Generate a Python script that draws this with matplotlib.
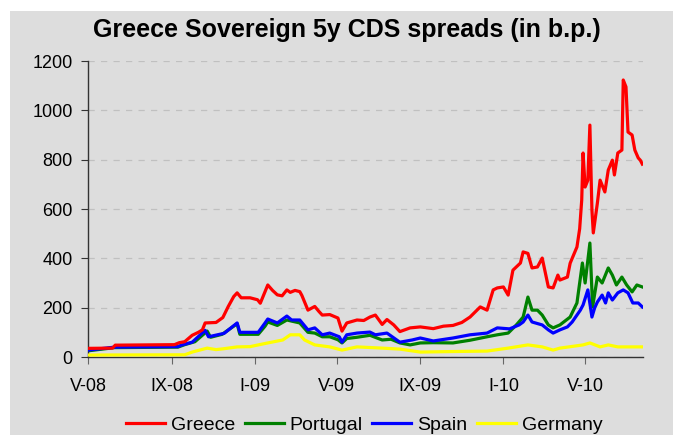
import matplotlib
matplotlib.use("Agg")
import matplotlib.pyplot as plt
import pandas as pd
from matplotlib.patches import Rectangle

plt.rcParams['font.family'] = ['Liberation Sans', 'DejaVu Sans']

# data (date, spread in b.p.)
greece_dates = ['2008-05-01', '2008-06-06', '2008-06-10', '2008-09-05', '2008-09-12', '2008-09-20',
                '2008-10-01', '2008-10-10', '2008-10-16', '2008-10-20', '2008-11-05', '2008-11-15',
                '2008-11-23', '2008-12-01', '2008-12-06', '2008-12-12', '2008-12-25', '2009-01-05',
                '2009-01-09', '2009-01-16', '2009-01-20', '2009-01-27', '2009-02-03', '2009-02-10',
                '2009-02-17', '2009-02-22', '2009-03-01', '2009-03-08', '2009-03-11', '2009-03-20',
                '2009-03-30', '2009-04-05', '2009-04-10', '2009-04-21', '2009-05-03', '2009-05-09',
                '2009-05-16', '2009-05-31', '2009-06-10', '2009-06-19', '2009-06-27', '2009-07-07',
                '2009-07-14', '2009-07-24', '2009-08-02', '2009-08-17', '2009-09-01', '2009-09-20',
                '2009-10-05', '2009-10-19', '2009-11-01', '2009-11-13', '2009-11-28', '2009-12-08',
                '2009-12-17', '2009-12-23', '2010-01-01', '2010-01-08', '2010-01-15', '2010-01-26',
                '2010-01-30', '2010-02-06', '2010-02-12', '2010-02-20', '2010-02-27', '2010-03-08',
                '2010-03-15', '2010-03-22', '2010-03-25', '2010-04-05', '2010-04-09', '2010-04-12',
                '2010-04-19', '2010-04-23', '2010-04-26', '2010-04-28', '2010-05-01', '2010-05-05',
                '2010-05-08', '2010-05-11', '2010-05-13', '2010-05-19', '2010-05-23', '2010-05-30',
                '2010-06-04', '2010-06-10', '2010-06-13', '2010-06-18', '2010-06-24', '2010-06-26',
                '2010-06-30', '2010-07-03', '2010-07-09', '2010-07-13', '2010-07-18', '2010-07-21',
                '2010-07-24']
greece_bp = [35, 36, 48, 50, 58, 62,
             88, 100, 110, 138, 140, 160,
             205, 245, 260, 240, 240, 232,
             218, 265, 292, 270, 252, 248,
             272, 262, 270, 265, 250, 190,
             205, 185, 170, 172, 158, 105,
             138, 150, 148, 162, 170, 132,
             152, 130, 103, 118, 122, 115,
             125, 128, 140, 162, 203, 190,
             272, 280, 284, 251, 352, 381,
             426, 420, 361, 365, 401, 284,
             280, 332, 312, 324, 380, 400,
             446, 520, 636, 827, 689, 717,
             940, 596, 503, 624, 717, 669,
             758, 798, 738, 827, 839, 1123,
             1095, 912, 900, 839, 807, 798,
             782]

portugal_dates = ['2008-05-01', '2008-06-09', '2008-09-10', '2008-09-20', '2008-10-05', '2008-10-23',
                  '2008-10-28', '2008-11-14', '2008-12-06', '2008-12-10', '2009-01-06', '2009-01-16',
                  '2009-01-20', '2009-02-03', '2009-02-17', '2009-03-08', '2009-03-20', '2009-03-30',
                  '2009-04-10', '2009-04-21', '2009-05-03', '2009-05-09', '2009-05-16', '2009-05-31',
                  '2009-06-19', '2009-07-07', '2009-07-20', '2009-08-02', '2009-08-17', '2009-09-01',
                  '2009-09-20', '2009-10-19', '2009-11-13', '2009-12-08', '2009-12-23', '2010-01-08',
                  '2010-01-20', '2010-01-30', '2010-02-06', '2010-02-12', '2010-02-20', '2010-02-27',
                  '2010-03-08', '2010-03-15', '2010-03-25', '2010-04-09', '2010-04-19', '2010-04-27',
                  '2010-05-01', '2010-05-08', '2010-05-12', '2010-05-19', '2010-05-26', '2010-06-04',
                  '2010-06-10', '2010-06-16', '2010-06-24', '2010-07-01', '2010-07-09', '2010-07-16',
                  '2010-07-24']
portugal_bp = [25, 38, 40, 50, 62, 105,
               80, 92, 135, 92, 92, 125,
               142, 128, 150, 138, 100, 97,
               82, 82, 70, 57, 75, 80,
               88, 69, 72, 57, 49, 57,
               58, 57, 68, 82, 90, 97,
               130, 162, 243, 190, 190, 170,
               130, 118, 130, 162, 219, 381,
               300, 462, 203, 324, 300, 361,
               332, 292, 324, 292, 264, 292,
               284]

spain_dates = ['2008-05-01', '2008-06-09', '2008-09-10', '2008-09-15', '2008-10-01', '2008-10-20',
               '2008-10-25', '2008-11-17', '2008-12-06', '2008-12-10', '2009-01-06', '2009-01-16',
               '2009-01-20', '2009-02-03', '2009-02-17', '2009-02-24', '2009-03-08', '2009-03-20',
               '2009-03-30', '2009-04-10', '2009-04-21', '2009-05-05', '2009-05-09', '2009-05-16',
               '2009-05-31', '2009-06-19', '2009-06-27', '2009-07-14', '2009-08-02', '2009-08-20',
               '2009-09-01', '2009-09-20', '2009-10-19', '2009-11-13', '2009-12-08', '2009-12-23',
               '2010-01-10', '2010-01-24', '2010-01-30', '2010-02-06', '2010-02-12', '2010-02-27',
               '2010-03-08', '2010-03-15', '2010-03-25', '2010-04-05', '2010-04-12', '2010-04-24',
               '2010-04-28', '2010-05-05', '2010-05-11', '2010-05-15', '2010-05-19', '2010-05-26',
               '2010-05-31', '2010-06-04', '2010-06-10', '2010-06-18', '2010-06-26', '2010-07-03',
               '2010-07-10', '2010-07-18', '2010-07-24']
spain_bp = [28, 40, 42, 48, 60, 108,
            82, 96, 138, 100, 100, 138,
            154, 138, 166, 150, 150, 110,
            118, 90, 97, 82, 60, 90,
            97, 101, 90, 97, 60, 69,
            77, 65, 77, 90, 97, 118,
            114, 130, 142, 170, 142, 130,
            110, 97, 110, 122, 142, 190,
            211, 272, 162, 199, 223, 251,
            219, 260, 231, 260, 272, 260,
            219, 219, 203]

germany_dates = ['2008-05-01', '2008-09-20', '2008-10-01', '2008-10-23', '2008-11-05', '2008-11-15',
                 '2008-12-06', '2008-12-25', '2009-01-06', '2009-01-20', '2009-02-11', '2009-02-22',
                 '2009-03-08', '2009-03-15', '2009-03-30', '2009-04-21', '2009-05-09', '2009-05-31',
                 '2009-07-07', '2009-08-02', '2009-09-01', '2009-10-15', '2009-12-08', '2010-01-08',
                 '2010-02-06', '2010-02-27', '2010-03-15', '2010-03-25', '2010-04-28', '2010-05-08',
                 '2010-05-23', '2010-06-04', '2010-06-18', '2010-07-24']
germany_bp = [8, 9, 20, 36, 30, 33,
              41, 42, 49, 57, 69, 90,
              90, 69, 49, 41, 28, 41,
              36, 32, 20, 22, 24, 36,
              49, 41, 28, 36, 49, 57,
              41, 49, 41, 41]

tick_dates = ['2008-05-01', '2008-09-01', '2009-01-01', '2009-05-01',
              '2009-09-01', '2010-01-01', '2010-05-01']
tick_labels = ['V-08', 'IX-08', 'I-09', 'V-09', 'IX-09', 'I-10', 'V-10']

fig = plt.figure(figsize=(6.83, 4.41), dpi=100)
fig.patch.set_facecolor('white')
# grey chart area with a small white margin
fig.patches.append(Rectangle((10 / 683, 6 / 441), 663 / 683, 424 / 441,
                             transform=fig.transFigure, facecolor='#dddddd',
                             edgecolor='none', zorder=-10))

ax = fig.add_axes([88 / 683, 1 - 357 / 441, 555 / 683, 296 / 441])
ax.set_facecolor('none')

series = {'Greece': (greece_dates, greece_bp, '#ff0000', 5),
          'Portugal': (portugal_dates, portugal_bp, '#008000', 2),
          'Spain': (spain_dates, spain_bp, '#0000ff', 3),
          'Germany': (germany_dates, germany_bp, '#ffff00', 4)}
for name, (d, v, c, z) in series.items():
    ax.plot(pd.to_datetime(d), v, color=c, lw=2.3, label=name,
            solid_joinstyle='round', zorder=z)

ax.set_ylim(0, 1200)
ax.set_yticks(range(0, 1201, 200))
ax.set_xlim(pd.Timestamp('2008-05-01'), pd.Timestamp('2010-07-25'))
ax.set_xticks(pd.to_datetime(tick_dates))
ax.set_xticklabels(tick_labels)

ax.yaxis.grid(True, color='#c0c0c0', linestyle=(0, (5, 5)), lw=0.9)
ax.set_axisbelow(True)
for s in ['top', 'right']:
    ax.spines[s].set_visible(False)
for s in ['left', 'bottom']:
    ax.spines[s].set_color('#333333')
    ax.spines[s].set_linewidth(1.0)
ax.tick_params(axis='y', direction='out', length=5, pad=6, labelsize=13, color='#333333')
ax.tick_params(axis='x', direction='out', length=5, pad=10, labelsize=13, color='#666666')

fig.text(0.508, 0.932, 'Greece Sovereign 5y CDS spreads (in b.p.)',
         ha='center', va='center', fontsize=18, fontweight='bold')

handles, labels = ax.get_legend_handles_labels()
fig.legend(handles, labels, loc='center', bbox_to_anchor=(0.533, 0.036),
           ncol=4, frameon=False, fontsize=14, handlelength=2.0,
           handletextpad=0.3, columnspacing=0.5)

fig.savefig('out.png', dpi=100, facecolor='white')
